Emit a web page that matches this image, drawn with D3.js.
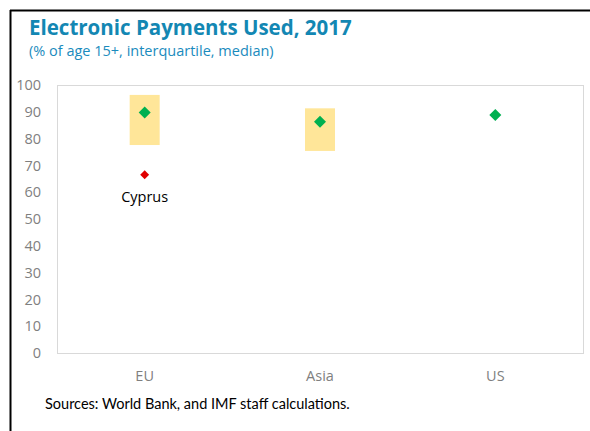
<!DOCTYPE html>
<html><head><meta charset="utf-8">
<script src="https://cdn.jsdelivr.net/npm/d3@7"></script>
<style>body{margin:0;background:#fff}svg{display:block}</style>
</head><body><svg id="c" width="590" height="431"></svg>
<script>
const categories = ["EU", "Asia", "US"];
const q1 = [77.6, 75.4, null];
const q3 = [96.3, 91.3, null];
const medians = [89.7, 86.3, 88.8];
const outlierCategory = ["EU"];
const outlierValue = [66.5];
const outlierLabel = ["Cyprus"];
const yTicks = [0,10,20,30,40,50,60,70,80,90,100];

const svg = d3.select("#c");
const m = {l:57, t:85, r:583, b:353};
const x = d3.scaleBand().domain(categories).range([m.l, m.r]);
const y = d3.scaleLinear().domain([0,100]).range([m.b, m.t]);

// outer frame
svg.append("line").attr("x1",10.5).attr("x2",10.5).attr("y1",10).attr("y2",431).attr("stroke","#000").attr("stroke-width",2);
svg.append("line").attr("x1",10).attr("x2",590).attr("y1",10.5).attr("y2",10.5).attr("stroke","#000").attr("stroke-width",2);

svg.append("text").attr("x",29).attr("y",35).text("Electronic Payments Used, 2017")
  .attr("font-family","Open Sans, sans-serif").attr("font-weight","bold").attr("font-size",20.5).attr("fill","#1387b3");
svg.append("text").attr("x",29).attr("y",56).text("(% of age 15+, interquartile, median)")
  .attr("font-family","Open Sans, sans-serif").attr("font-size",14.5).attr("fill","#1a8bbd");

// plot frame
svg.append("rect").attr("x",m.l+0.5).attr("y",m.t+0.5).attr("width",m.r-m.l).attr("height",m.b-m.t)
  .attr("fill","none").attr("stroke","#d9d9d9").attr("stroke-width",1);

// y axis labels
const yAxis = d3.axisLeft(y).tickValues(yTicks).tickSize(0).tickPadding(16);
const ga = svg.append("g").attr("transform",`translate(${m.l},0)`).call(yAxis);
ga.select(".domain").remove();
ga.selectAll("text").attr("font-family","Open Sans, sans-serif").attr("font-size",14.5).attr("fill","#7f7f7f");

const xAxis = d3.axisBottom(x).tickSize(0).tickPadding(18);
const gx = svg.append("g").attr("transform",`translate(0,${m.b})`).call(xAxis);
gx.select(".domain").remove();
gx.selectAll("text").attr("font-family","Open Sans, sans-serif").attr("font-size",14.5).attr("fill","#7f7f7f");

// boxes
const bw = 30;
svg.selectAll("rect.box").data(categories.map((c,i)=>({c,lo:q1[i],hi:q3[i]})).filter(d=>d.lo!=null))
  .enter().append("rect").attr("class","box")
  .attr("x",d=>x(d.c)+x.bandwidth()/2-bw/2).attr("width",bw)
  .attr("y",d=>y(d.hi)).attr("height",d=>y(d.lo)-y(d.hi)).attr("fill","#ffe699");

svg.selectAll("path.med").data(categories.map((c,i)=>({c,v:medians[i]})))
  .enter().append("path").attr("class","med")
  .attr("d",d3.symbol().type(d3.symbolSquare).size(72)())
  .attr("transform",d=>`translate(${x(d.c)+x.bandwidth()/2},${y(d.v)}) rotate(45)`)
  .attr("fill","#00b050");

const outs = outlierCategory.map((c,i)=>({c,v:outlierValue[i],l:outlierLabel[i]}));
svg.selectAll("path.out").data(outs)
  .enter().append("path").attr("class","out")
  .attr("d",d3.symbol().type(d3.symbolSquare).size(40)())
  .attr("transform",d=>`translate(${x(d.c)+x.bandwidth()/2},${y(d.v)}) rotate(45)`)
  .attr("fill","#e00000");
svg.selectAll("text.out").data(outs)
  .enter().append("text").attr("class","out")
  .attr("x",d=>x(d.c)+x.bandwidth()/2).attr("y",d=>y(d.v)+27).attr("text-anchor","middle")
  .attr("font-family","Open Sans, sans-serif").attr("font-size",14.5).attr("fill","#000").text(d=>d.l);

svg.append("text").attr("x",45).attr("y",409).text("Sources: World Bank, and IMF staff calculations.")
  .attr("font-family","Lato, sans-serif").attr("font-size",14.5).attr("fill","#000");
</script></body></html>
